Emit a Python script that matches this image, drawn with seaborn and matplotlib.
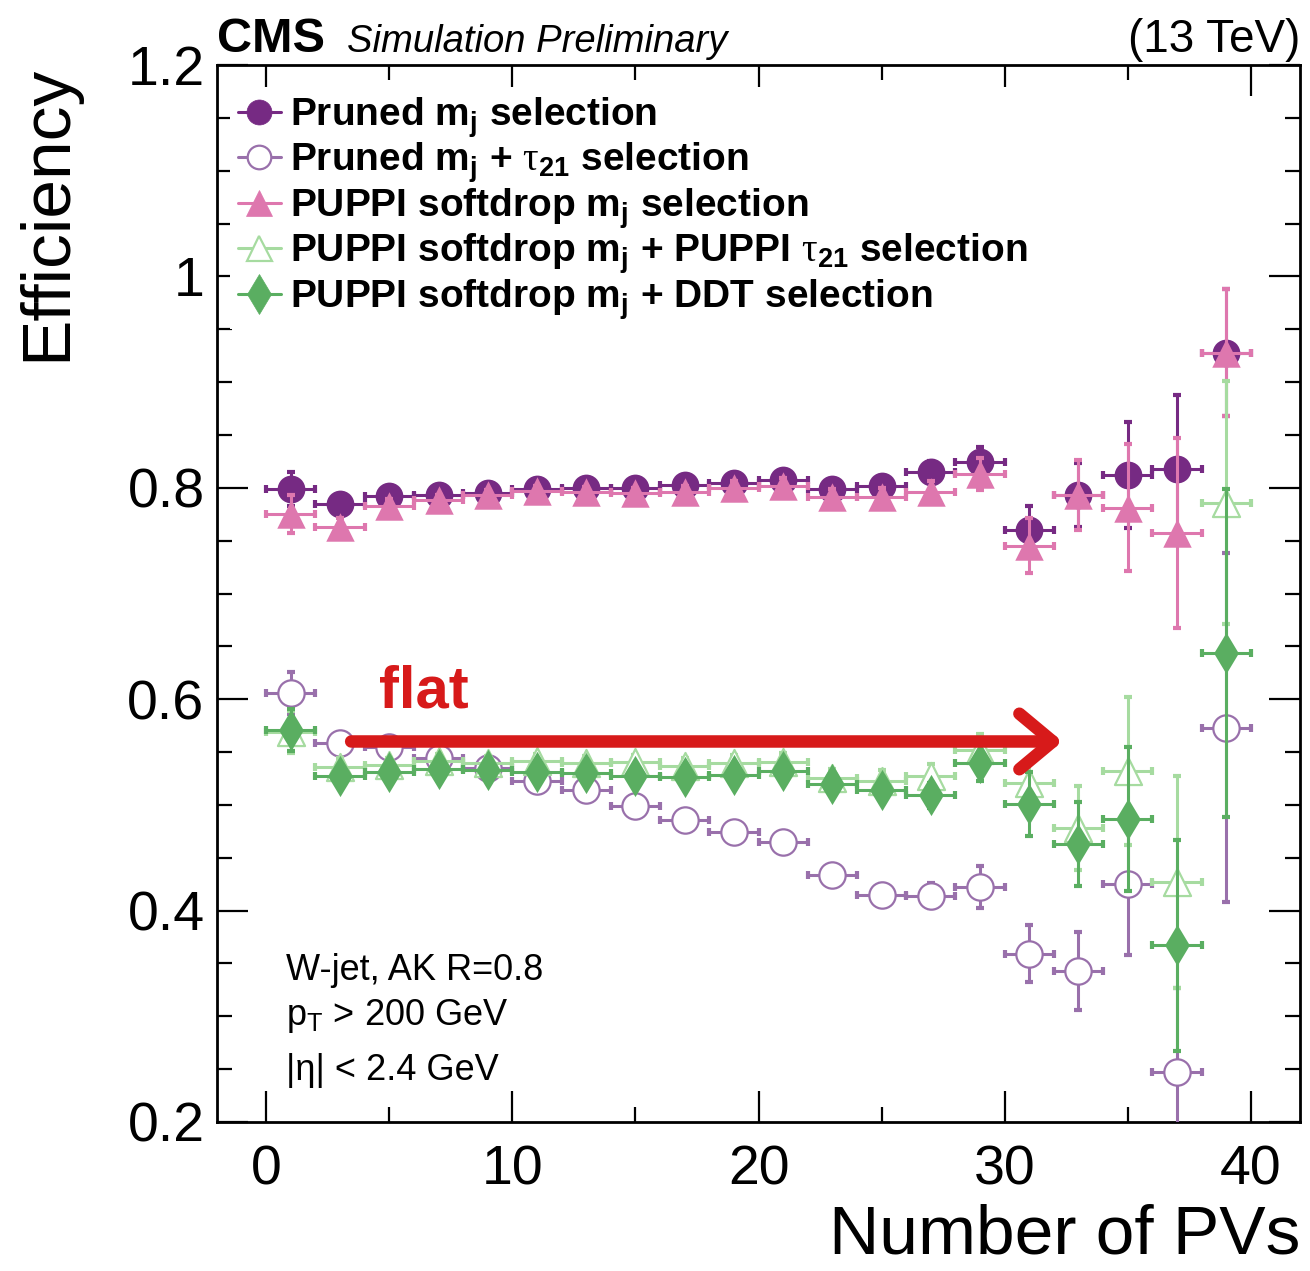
import numpy as np
import pandas as pd
import matplotlib
matplotlib.use("Agg")
import matplotlib.pyplot as plt
from matplotlib.lines import Line2D
from matplotlib.ticker import MultipleLocator, FixedLocator, FixedFormatter
import seaborn as sns

# ---------------- data ----------------
n_pv = [1, 3, 5, 7, 9, 11, 13, 15, 17, 19, 21, 23, 25, 27, 29, 31, 33, 35, 37, 39]
n_pv_halfwidth = [1] * 20

eff_pruned = [0.799, 0.785, 0.792, 0.793, 0.795, 0.799, 0.800, 0.800, 0.803, 0.805,
              0.807, 0.799, 0.802, 0.815, 0.824, 0.760, 0.793, 0.812, 0.818, 0.928]
err_pruned = [0.016, 0.008, 0.006, 0.005, 0.005, 0.005, 0.005, 0.005, 0.006, 0.006,
              0.007, 0.008, 0.009, 0.010, 0.015, 0.023, 0.030, 0.050, 0.070, 0.060]

eff_pruned_tau21 = [0.606, 0.559, 0.555, 0.544, 0.535, 0.523, 0.514, 0.499, 0.486, 0.474,
                    0.465, 0.434, 0.415, 0.414, 0.422, 0.359, 0.343, 0.425, 0.247, 0.573]
err_pruned_tau21 = [0.020, 0.008, 0.006, 0.006, 0.006, 0.006, 0.006, 0.007, 0.007, 0.008,
                    0.008, 0.009, 0.010, 0.012, 0.020, 0.027, 0.037, 0.067, 0.080, 0.165]

eff_puppi = [0.775, 0.763, 0.783, 0.788, 0.793, 0.797, 0.796, 0.795, 0.796, 0.800,
             0.802, 0.791, 0.791, 0.796, 0.813, 0.745, 0.793, 0.781, 0.757, 0.928]
err_puppi = [0.018, 0.008, 0.006, 0.005, 0.005, 0.005, 0.005, 0.005, 0.006, 0.006,
             0.007, 0.008, 0.009, 0.010, 0.015, 0.026, 0.033, 0.060, 0.090, 0.060]

eff_puppi_tau21 = [0.569, 0.536, 0.538, 0.542, 0.540, 0.542, 0.540, 0.541, 0.537, 0.540,
                   0.541, 0.525, 0.523, 0.527, 0.552, 0.521, 0.478, 0.532, 0.427, 0.786]
err_puppi_tau21 = [0.020, 0.008, 0.006, 0.006, 0.006, 0.006, 0.006, 0.006, 0.007, 0.007,
                   0.008, 0.009, 0.010, 0.012, 0.015, 0.020, 0.040, 0.070, 0.100, 0.115]

eff_puppi_ddt = [0.571, 0.527, 0.531, 0.534, 0.533, 0.531, 0.530, 0.527, 0.526, 0.528,
                 0.532, 0.520, 0.514, 0.509, 0.540, 0.501, 0.463, 0.487, 0.367, 0.644]
err_puppi_ddt = [0.020, 0.008, 0.006, 0.006, 0.006, 0.006, 0.006, 0.006, 0.007, 0.007,
                 0.008, 0.009, 0.010, 0.012, 0.017, 0.030, 0.040, 0.068, 0.100, 0.155]

selection_labels = [
    r"Pruned m$_{j}$ selection",
    r"Pruned m$_{j}$ + $\mathrm{\tau}_{21}$ selection",
    r"PUPPI softdrop m$_{j}$ selection",
    r"PUPPI softdrop m$_{j}$ + PUPPI $\mathrm{\tau}_{21}$ selection",
    r"PUPPI softdrop m$_{j}$ + DDT selection",
]

x_ticks = [0, 10, 20, 30, 40]
x_tick_labels = ["0", "10", "20", "30", "40"]
y_ticks = [0.2, 0.4, 0.6, 0.8, 1.0, 1.2]
y_tick_labels = ["0.2", "0.4", "0.6", "0.8", "1", "1.2"]

info_lines = ["W-jet, AK R=0.8", r"p$_{T}$ > 200 GeV", r"|η| < 2.4 GeV"]
annot_text = "flat"

# ---------------- styling ----------------
sns.set_theme(style="ticks")
plt.rcParams["font.family"] = ["Liberation Sans", "DejaVu Sans"]
plt.rcParams["mathtext.fontset"] = "custom"
plt.rcParams["mathtext.rm"] = "Liberation Serif"
plt.rcParams["mathtext.default"] = "regular"
plt.rcParams["text.color"] = "black"
plt.rcParams["axes.labelcolor"] = "black"
plt.rcParams["xtick.color"] = "black"
plt.rcParams["ytick.color"] = "black"
plt.rcParams["axes.edgecolor"] = "black"

series_style = [
    dict(color="#762a83", marker="o", face="#762a83", s=400, ms=18, lw_edge=0.0),
    dict(color="#9970ab", marker="o", face="white", s=360, ms=17, lw_edge=1.6),
    dict(color="#de77ae", marker="^", face="#de77ae", s=420, ms=19, lw_edge=0.0),
    dict(color="#a6dba0", marker="^", face="white", s=380, ms=18, lw_edge=1.6),
    dict(color="#5aae61", marker="d", face="#5aae61", s=440, ms=20, lw_edge=0.0),
]

effs = [eff_pruned, eff_pruned_tau21, eff_puppi, eff_puppi_tau21, eff_puppi_ddt]
errs = [err_pruned, err_pruned_tau21, err_puppi, err_puppi_tau21, err_puppi_ddt]

frames = []
for lab, e, de in zip(selection_labels, effs, errs):
    frames.append(pd.DataFrame({"nPV": n_pv, "dx": n_pv_halfwidth, "eff": e, "err": de, "selection": lab}))
df = pd.concat(frames, ignore_index=True)

fig = plt.figure(figsize=(13.1, 12.71), dpi=100)
ax = fig.add_axes([217 / 1310, 1 - 1122 / 1271, (1300 - 217) / 1310, (1122 - 65) / 1271])

for i, (lab, st) in enumerate(zip(selection_labels, series_style)):
    d = df[df["selection"] == lab]
    ax.errorbar(d["nPV"], d["eff"], xerr=d["dx"], yerr=d["err"], fmt="none",
                ecolor=st["color"], elinewidth=2.2, capsize=3, capthick=3,
                zorder=2 + 2 * i)
    sns.scatterplot(data=d, x="nPV", y="eff", marker=st["marker"], s=st["s"],
                    color=st["face"], edgecolor=st["color"], linewidth=st["lw_edge"],
                    ax=ax, zorder=3 + 2 * i, legend=False)

ax.set_xlim(-2, 42)
ax.set_ylim(0.2, 1.2)
ax.set_xlabel("")
ax.set_ylabel("")

ax.xaxis.set_major_locator(FixedLocator(x_ticks))
ax.xaxis.set_major_formatter(FixedFormatter(x_tick_labels))
ax.xaxis.set_minor_locator(MultipleLocator(5))
ax.yaxis.set_major_locator(FixedLocator(y_ticks))
ax.yaxis.set_major_formatter(FixedFormatter(y_tick_labels))
ax.yaxis.set_minor_locator(MultipleLocator(0.05))

ax.tick_params(which="both", direction="in", top=True, right=True, colors="black",
               labelcolor="black", width=1.6, labelsize=40)
ax.tick_params(which="major", length=22)
ax.tick_params(which="minor", length=11)
ax.tick_params(axis="x", which="major", pad=16)
ax.tick_params(axis="y", which="major", pad=9)
for sp in ax.spines.values():
    sp.set_linewidth(2.0)
    sp.set_color("black")
    sp.set_visible(True)

# legend
handles = [Line2D([], [], color=st["color"], marker=st["marker"], markersize=st["ms"],
                  markerfacecolor=st["face"], markeredgecolor=st["color"],
                  markeredgewidth=max(st["lw_edge"], 0.5), lw=2.2)
           for st in series_style]
leg = ax.legend(handles, selection_labels, loc="upper left", bbox_to_anchor=(0.012, 0.979),
                frameon=True, framealpha=1.0, facecolor="white", edgecolor="none",
                fancybox=False, prop=dict(size=28, weight="bold"), handlelength=1.1,
                handletextpad=0.25, labelspacing=0.02, borderpad=0.2, borderaxespad=0.0)
leg.set_zorder(20)
for t in leg.get_texts():
    t.set_color("black")

# info text
info_y = [0.334, 0.292, 0.240]
for t, yy in zip(info_lines, info_y):
    ax.text(0.81, yy, t, fontsize=26, ha="left", va="baseline", color="black", zorder=25)

# red annotation
red = "#d71a1a"
arrow_start = (3.45, 0.560)
arrow_end = (32.35, 0.560)
ax.text(4.6, 0.592, annot_text, fontsize=43, fontweight="bold", color=red,
        ha="left", va="baseline", zorder=30)
ax.annotate("", xy=arrow_end, xytext=arrow_start,
            arrowprops=dict(arrowstyle="->,head_length=1.2,head_width=1.0", lw=9,
                            color=red, capstyle="round", joinstyle="round",
                            mutation_scale=20, shrinkA=0, shrinkB=0),
            zorder=30)

# header and axis titles
fig.text(217 / 1310, 1 - 52 / 1271, "CMS", fontsize=35, fontweight="bold",
         ha="left", va="baseline", color="black")
fig.text(347 / 1310, 1 - 52 / 1271, "Simulation Preliminary", fontsize=27.5,
         fontstyle="italic", ha="left", va="baseline", color="black")
fig.text(1300 / 1310, 1 - 52 / 1271, "(13 TeV)", fontsize=33, ha="right", va="baseline",
         color="black")
fig.text(47 / 1310, 1 - 65 / 1271, "Efficiency", fontsize=50, rotation=90,
         ha="center", va="top", color="black")
fig.text(1300 / 1310, 1 - 1268 / 1271, "Number of PVs", fontsize=50,
         ha="right", va="bottom", color="black")

fig.savefig("out.png", dpi=100, facecolor="white")
